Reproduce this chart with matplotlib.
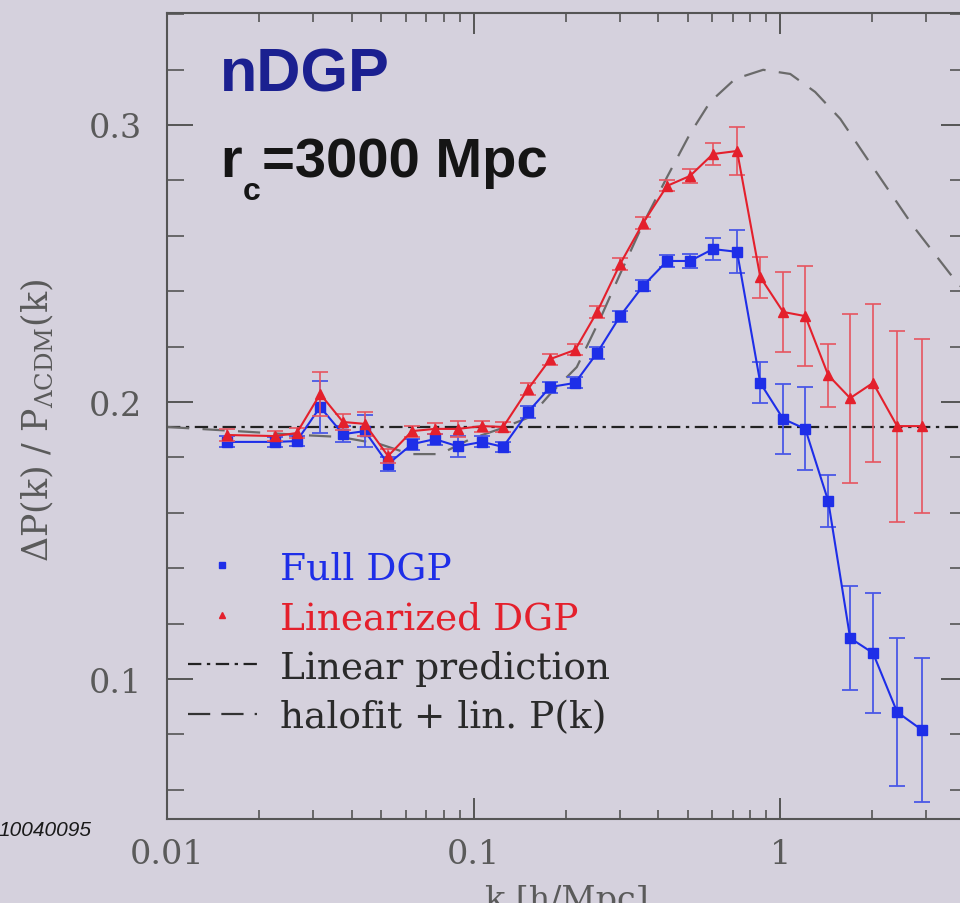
import matplotlib
matplotlib.use("Agg")
import matplotlib.pyplot as plt
from matplotlib.lines import Line2D
from matplotlib.ticker import LogLocator, MultipleLocator, FixedLocator, FixedFormatter, NullFormatter

# ---------------- data ----------------
k_bins = [0.0157, 0.0225, 0.0265, 0.0316, 0.0375, 0.0442, 0.0526, 0.0630, 0.0748, 0.0889,
          0.1066, 0.1249, 0.1506, 0.1778, 0.2144, 0.2529, 0.3006, 0.3572, 0.4278, 0.5082,
          0.6039, 0.7238, 0.8614, 1.023, 1.208, 1.435, 1.692, 2.009, 2.408, 2.904]

full_dgp = [0.1856, 0.1856, 0.1859, 0.1982, 0.1884, 0.1895, 0.1776, 0.1848, 0.1866, 0.1840,
            0.1856, 0.1838, 0.1964, 0.2054, 0.2069, 0.2177, 0.2310, 0.2419, 0.2509, 0.2509,
            0.2552, 0.2542, 0.2069, 0.1939, 0.1903, 0.1643, 0.1148, 0.1094, 0.0881, 0.0816]
full_err = [0.0020, 0.0018, 0.0018, 0.0095, 0.0030, 0.0058, 0.0025, 0.0020, 0.0020, 0.0038,
            0.0020, 0.0018, 0.0020, 0.0020, 0.0020, 0.0020, 0.0020, 0.0020, 0.0020, 0.0025,
            0.0040, 0.0078, 0.0074, 0.0125, 0.0150, 0.0094, 0.0188, 0.0218, 0.0267, 0.0260]

lin_dgp = [0.1881, 0.1877, 0.1888, 0.2029, 0.1928, 0.1921, 0.1805, 0.1895, 0.1903, 0.1903,
           0.1913, 0.1910, 0.2047, 0.2155, 0.2188, 0.2325, 0.2498, 0.2646, 0.2780, 0.2816,
           0.2895, 0.2906, 0.2451, 0.2325, 0.2310, 0.2097, 0.2014, 0.2069, 0.1913, 0.1913]
lin_err = [0.0020, 0.0018, 0.0018, 0.0080, 0.0030, 0.0043, 0.0025, 0.0020, 0.0020, 0.0030,
           0.0020, 0.0018, 0.0020, 0.0020, 0.0020, 0.0020, 0.0020, 0.0020, 0.0020, 0.0025,
           0.0040, 0.0087, 0.0074, 0.0144, 0.0180, 0.0114, 0.0305, 0.0285, 0.0345, 0.0314]

linear_prediction = 0.191

halofit_k = [0.0100, 0.0272, 0.0367, 0.0495, 0.0621, 0.0778, 0.0975, 0.1220, 0.1528, 0.1778,
             0.2171, 0.2587, 0.3006, 0.3572, 0.4278, 0.5082, 0.5911, 0.7131, 0.8803, 1.079,
             1.301, 1.571, 1.995, 2.715, 3.589, 4.074]
halofit_y = [0.1910, 0.1881, 0.1874, 0.1848, 0.1812, 0.1812, 0.1866, 0.1903, 0.1946, 0.2029,
             0.2126, 0.2300, 0.2462, 0.2643, 0.2812, 0.2968, 0.3083, 0.3166, 0.3199, 0.3184,
             0.3119, 0.3022, 0.2852, 0.2635, 0.2462, 0.2390]

x_major = [0.01, 0.1, 1]
x_major_labels = ["0.01", "0.1", "1"]
y_major = [0.1, 0.2, 0.3]
y_major_labels = ["0.1", "0.2", "0.3"]

legend_labels = ["Full DGP", "Linearized DGP", "Linear prediction", "halofit + lin. P(k)"]

# ---------------- style ----------------
BG = "#d5d1dd"
BLUE = "#1e2ee8"
BLUE_E = "#4a58e6"
RED = "#e4202c"
RED_E = "#e65560"
AXC = "#555555"
TXT = "#5a5a5a"

plt.rcParams["mathtext.fontset"] = "dejavuserif"
plt.rcParams["font.family"] = ["DejaVu Serif"]

W, H = 960, 904
fig = plt.figure(figsize=(W / 100, H / 100), dpi=100, facecolor=BG)
ax = fig.add_axes([167 / W, 1 - 820 / H, 800 / W, 806 / H], facecolor=BG)

ax.set_xscale("log")
ax.set_xlim(0.01, 4.07)
ax.set_ylim(0.0495, 0.3404)

# theory curves
ax.axhline(linear_prediction, color="#222222", lw=1.6, dashes=[6, 2.5, 1.5, 2.5], zorder=2)
ax.plot(halofit_k, halofit_y, color="#6a6a6a", lw=1.6, dashes=[10, 6], zorder=2)

# data
ax.errorbar(k_bins, full_dgp, yerr=full_err, fmt="-s", color=BLUE, ms=7, lw=1.5,
            ecolor=BLUE_E, elinewidth=1.3, capsize=6, capthick=1.3, zorder=3)
ax.errorbar(k_bins, lin_dgp, yerr=lin_err, fmt="-^", color=RED, ms=6.5, lw=1.5,
            ecolor=RED_E, elinewidth=1.2, capsize=6, capthick=1.2, zorder=4)

# ticks
ax.xaxis.set_major_locator(FixedLocator(x_major))
ax.xaxis.set_major_formatter(FixedFormatter(x_major_labels))
ax.xaxis.set_minor_locator(LogLocator(base=10, subs=range(2, 10), numticks=20))
ax.xaxis.set_minor_formatter(NullFormatter())
ax.yaxis.set_major_locator(FixedLocator(y_major))
ax.yaxis.set_major_formatter(FixedFormatter(y_major_labels))
ax.yaxis.set_minor_locator(MultipleLocator(0.02))

ax.tick_params(axis="both", which="both", direction="in", top=True, right=True,
               color=AXC, labelcolor=TXT, labelsize=24)
ax.tick_params(axis="x", which="major", length=15, width=1.4, pad=14)
ax.tick_params(axis="x", which="minor", length=6.5, width=1.2)
ax.tick_params(axis="y", which="major", length=19, width=1.4, pad=18)
ax.tick_params(axis="y", which="minor", length=12, width=1.2)
for s in ax.spines.values():
    s.set_color(AXC)
    s.set_linewidth(1.5)

# legend
handles = [
    Line2D([], [], color=BLUE, marker="s", ls="none", ms=5),
    Line2D([], [], color=RED, marker="^", ls="none", ms=5),
    Line2D([], [], color="#222222", lw=1.6, dashes=[6, 2.5, 1.5, 2.5]),
    Line2D([], [], color="#333333", lw=1.6, dashes=[10, 5]),
]
leg = ax.legend(handles, legend_labels, loc="upper left", bbox_to_anchor=(0.026, 0.333),
                frameon=False, fontsize=27, handlelength=1.84, handletextpad=0.62,
                labelspacing=0.36, borderpad=0, borderaxespad=0,
                labelcolor=[BLUE, RED, "#2a2a2a", "#2a2a2a"])

# annotations
fig.text(220 / W, 1 - 91 / H, "nDGP", ha="left", va="baseline", fontsize=44,
         weight="bold", family="Liberation Sans", color="#1b2090")
fig.text(220 / W, 1 - 177 / H, "r", ha="left", va="baseline", fontsize=40,
         weight="bold", family="Liberation Sans", color="#151515")
fig.text(243 / W, 1 - 200 / H, "c", ha="left", va="baseline", fontsize=23,
         weight="bold", family="Liberation Sans", color="#151515")
fig.text(262 / W, 1 - 177 / H, "=3000 Mpc", ha="left", va="baseline", fontsize=40.5,
         weight="bold", family="Liberation Sans", color="#151515")

fig.text(38 / W, 1 - 420 / H, r"$\Delta$P(k) / P$_{\Lambda\mathrm{CDM}}$(k)",
         rotation=90, ha="center", va="center", fontsize=25, color=TXT)
fig.text(567 / W, 1 - 910 / H, "k [h/Mpc]", ha="center", va="baseline",
         fontsize=24, color=TXT)
fig.text(91 / W, 1 - 836 / H, "10040095", ha="right", va="baseline", fontsize=15,
         style="italic", family="Liberation Sans", color="#1a1a1a")

fig.savefig("out.png", dpi=100, facecolor=BG)
